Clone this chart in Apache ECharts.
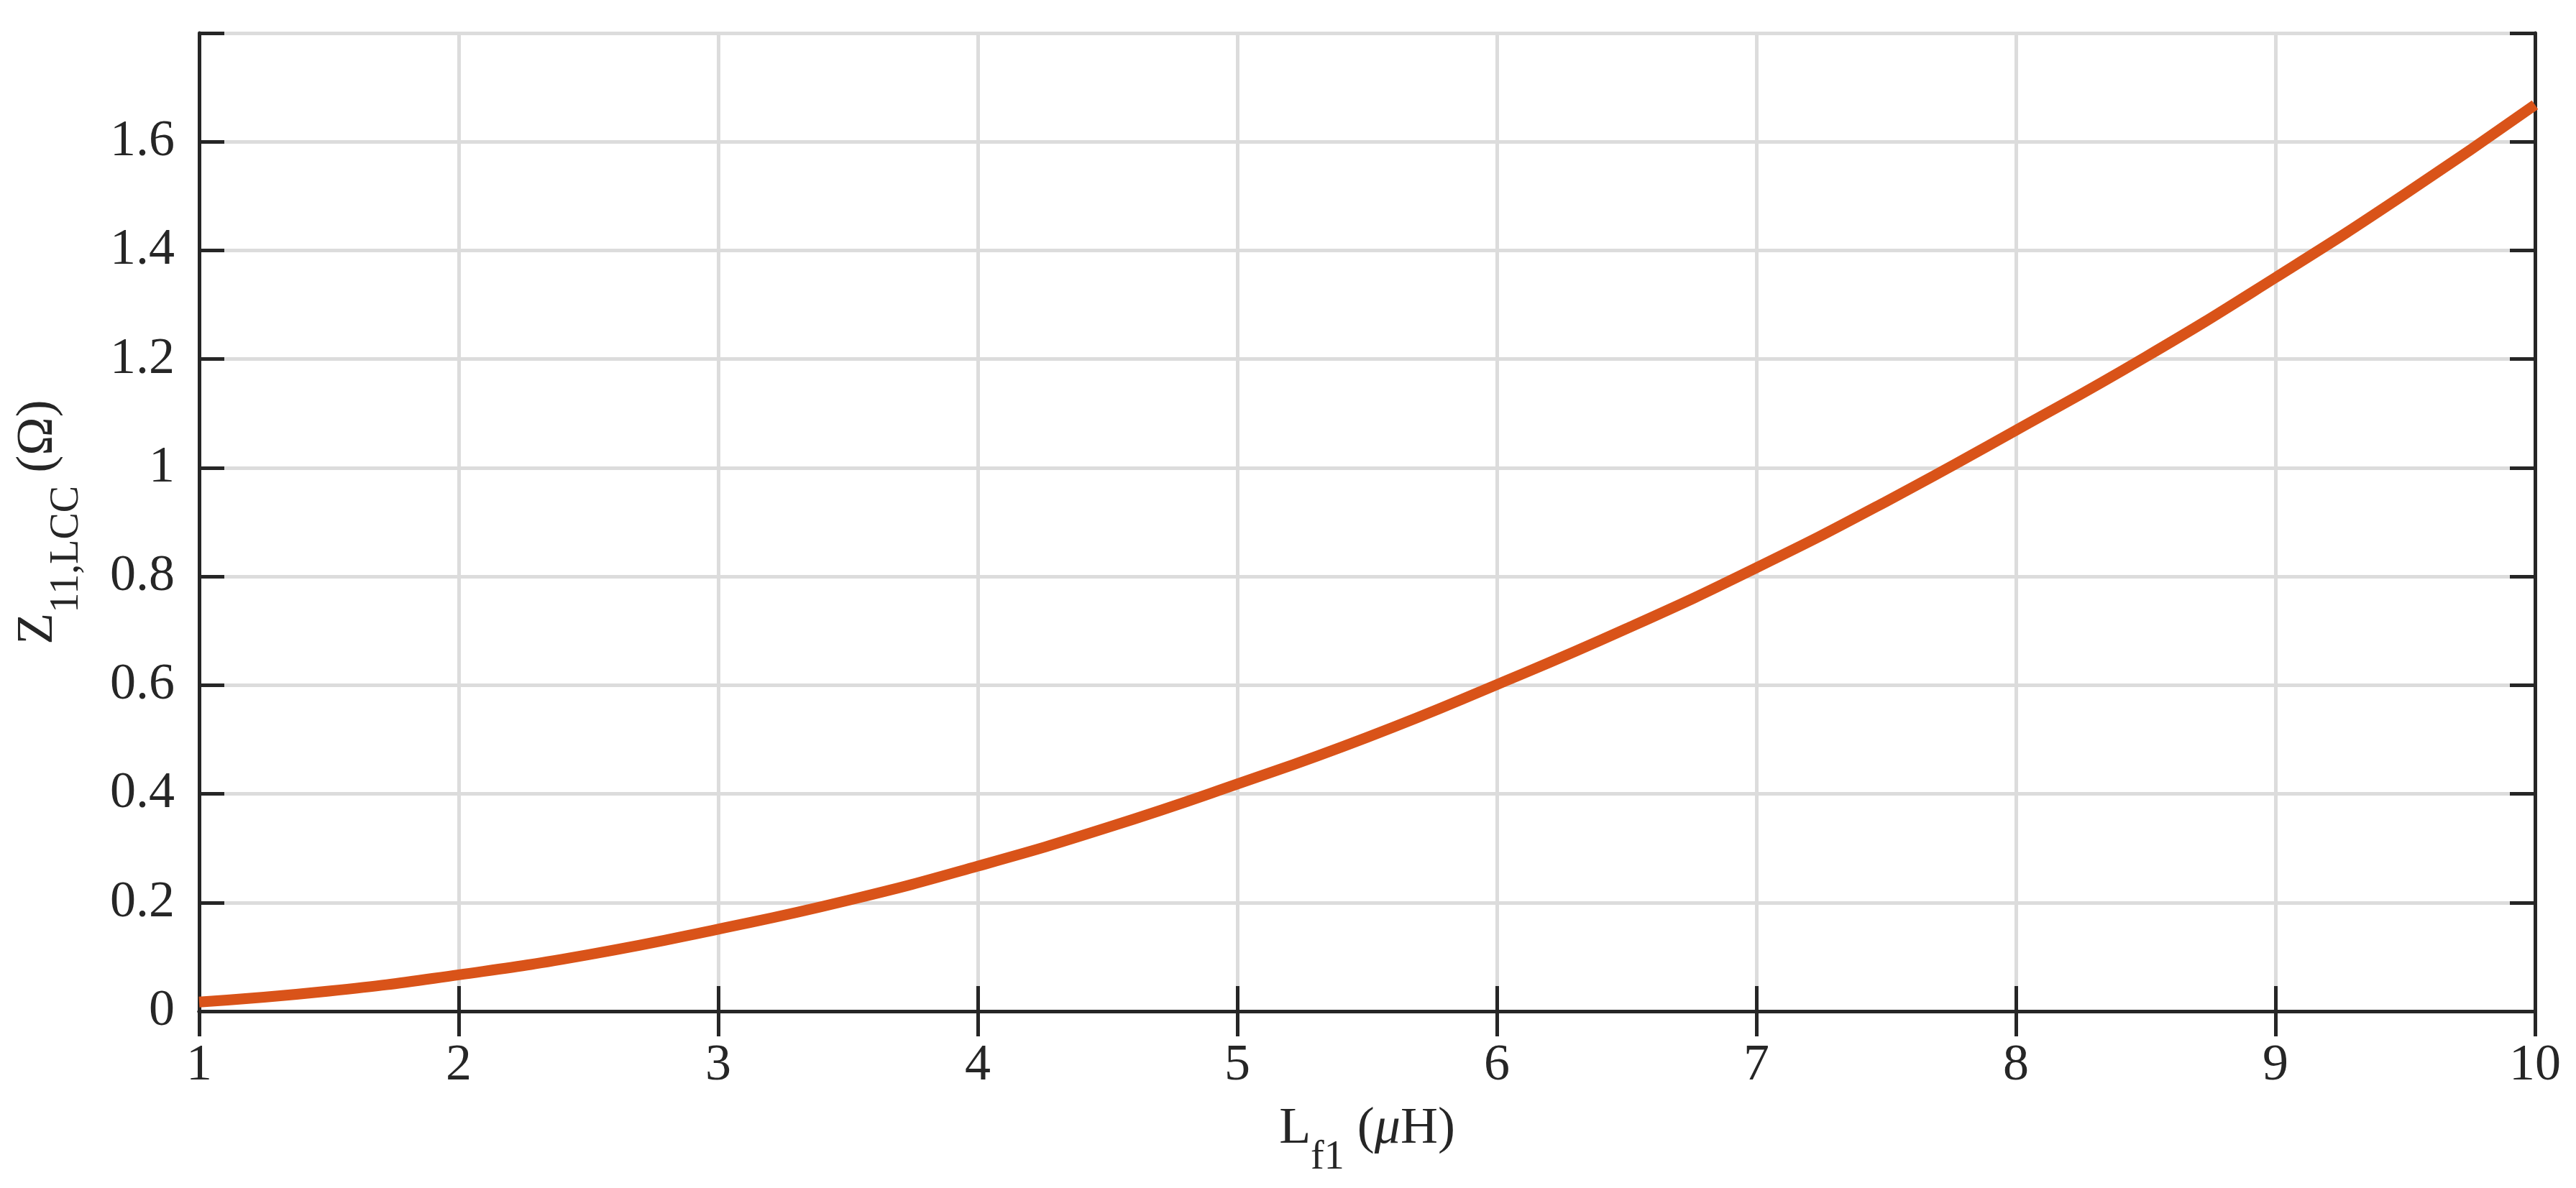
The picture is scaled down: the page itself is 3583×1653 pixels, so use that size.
<!DOCTYPE html>
<html>
<head>
<meta charset="utf-8">
<script src="https://cdn.jsdelivr.net/npm/echarts@6/dist/echarts.min.js"></script>
<style>
  html, body { margin: 0; padding: 0; background: #fff; }
  #chart { width: 3583px; height: 1653px; }
</style>
</head>
<body>
<div id="chart"></div>
<script>
// L_f1 in uH
var lf1 = [1, 1.5, 2, 2.5, 3, 3.5, 4, 4.5, 5, 5.5, 6, 6.5, 7, 7.5, 8, 8.5, 9, 9.5, 10];
// Z11,LCC in ohm
var z11 = [0.017, 0.037, 0.067, 0.104, 0.151, 0.204, 0.267, 0.338, 0.418, 0.504, 0.601, 0.704, 0.816, 0.938, 1.069, 1.204, 1.350, 1.504, 1.668];

var xTicks = [1, 2, 3, 4, 5, 6, 7, 8, 9, 10];
var yTicks = [0, 0.2, 0.4, 0.6, 0.8, 1, 1.2, 1.4, 1.6];

var INK = '#262626';
var GRID = '#dcdcdc';
var FONT = '"Liberation Serif", "Times New Roman", serif';

var points = [];
for (var i = 0; i < lf1.length; i++) {
    points.push([lf1[i], z11[i]]);
}

var mainText = { fontSize: 72, lineHeight: 72, fontFamily: FONT, color: INK, verticalAlign: 'top' };
var subText = { fontSize: 56, lineHeight: 56, fontFamily: FONT, color: INK, verticalAlign: 'top', padding: [48, 0, 0, 0] };
var italText = { fontSize: 72, lineHeight: 72, fontFamily: FONT, color: INK, verticalAlign: 'top', fontStyle: 'italic' };

var showTick = function(list) {
    return function(v) {
        for (var k = 0; k < list.length; k++) {
            if (Math.abs(list[k] - v) < 1e-9) return String(list[k]);
        }
        return '';
    };
};

var frameAxis = {
    axisLine: { show: true, lineStyle: { color: INK, width: 5 } },
    axisTick: { show: true, inside: true, length: 35, lineStyle: { color: INK, width: 5 } },
    axisLabel: { show: false },
    splitLine: { show: false }
};

var chart = echarts.init(document.getElementById('chart'));

var option = {
    backgroundColor: '#ffffff',
    animation: false,
    grid: {
        left: 277,
        top: 46,
        width: 3249,
        height: 1361,
        containLabel: false,
        outerBoundsMode: 'none'
    },
    xAxis: [{
        type: 'value',
        position: 'bottom',
        min: 1,
        max: 10,
        interval: 1,
        name: '{m|L}{s|f1}{m| (}{i|μ}{m|H)}',
        nameLocation: 'middle',
        nameGap: 128,
        nameTextStyle: { rich: { m: mainText, s: subText, i: italText } },
        axisLine: { show: true, onZero: false, lineStyle: { color: INK, width: 5 } },
        axisTick: { show: true, inside: true, length: 35, lineStyle: { color: INK, width: 5 } },
        axisLabel: { show: true, margin: 40, fontSize: 72, fontFamily: FONT, color: INK, formatter: showTick(xTicks) },
        splitLine: { show: true, lineStyle: { color: GRID, width: 5 } }
    }, Object.assign({
        type: 'value',
        position: 'top',
        min: 1,
        max: 10,
        interval: 1
    }, frameAxis)],
    yAxis: [{
        type: 'value',
        position: 'left',
        min: 0,
        max: 1.8,
        interval: 0.2,
        name: '{m|Z}{s|11,LCC}{m| (Ω)}',
        nameLocation: 'middle',
        nameRotate: 90,
        nameGap: 188,
        nameTextStyle: { rich: { m: mainText, s: subText } },
        axisLine: { show: true, onZero: false, lineStyle: { color: INK, width: 5 } },
        axisTick: { show: true, inside: true, length: 35, lineStyle: { color: INK, width: 5 } },
        axisLabel: { show: true, margin: 34, fontSize: 72, fontFamily: FONT, color: INK, formatter: showTick(yTicks) },
        splitLine: { show: true, lineStyle: { color: GRID, width: 5 } }
    }, Object.assign({
        type: 'value',
        position: 'right',
        min: 0,
        max: 1.8,
        interval: 0.2
    }, frameAxis)],
    series: [{
        type: 'line',
        xAxisIndex: 0,
        yAxisIndex: 0,
        data: points,
        smooth: true,
        showSymbol: false,
        symbol: 'none',
        clip: false,
        lineStyle: { color: '#D95319', width: 15, cap: 'butt' },
        z: 3
    }]
};

chart.setOption(option);
</script>
</body>
</html>
